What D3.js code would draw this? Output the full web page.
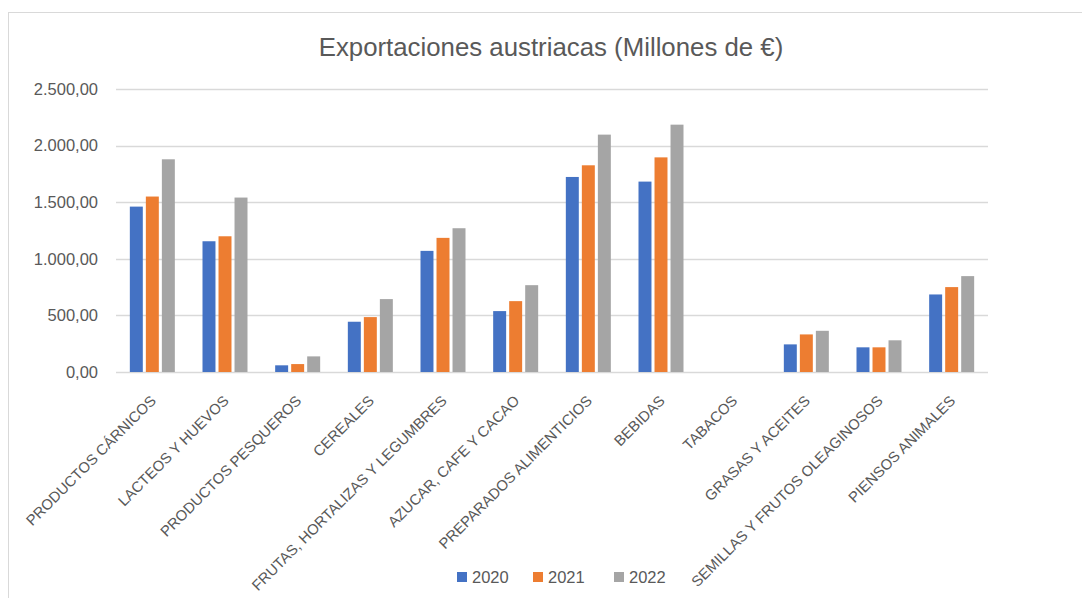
<!DOCTYPE html>
<html>
<head>
<meta charset="utf-8">
<script src="https://cdn.jsdelivr.net/npm/d3@7"></script>
<style>
  html, body { margin: 0; padding: 0; background: #fff; }
  svg { display: block; font-family: "Liberation Sans", Arial, sans-serif; }
</style>
</head>
<body>
<div id="chart"></div>
<script>
// categorías y valores (millones de €)
const categories = [
    "PRODUCTOS CÁRNICOS", "LACTEOS Y HUEVOS", "PRODUCTOS PESQUEROS", "CEREALES",
    "FRUTAS, HORTALIZAS Y LEGUMBRES", "AZUCAR, CAFE Y CACAO", "PREPARADOS ALIMENTICIOS",
    "BEBIDAS", "TABACOS", "GRASAS Y ACEITES", "SEMILLAS Y FRUTOS OLEAGINOSOS", "PIENSOS ANIMALES"
];
const years = ["2020", "2021", "2022"];
const values2020 = [1461, 1155, 59, 444, 1070, 538, 1723, 1682, 0, 244, 218, 685];
const values2021 = [1550, 1199, 70, 485, 1185, 626, 1826, 1896, 0, 332, 218, 750];
const values2022 = [1879, 1541, 138, 644, 1270, 767, 2097, 2185, 0, 364, 280, 847];
const yTicks = [0, 500, 1000, 1500, 2000, 2500];
const colors = ["#4472C4", "#ED7D31", "#A5A5A5"];

const W = 1082, H = 598;
const plot = { left: 116, right: 988, top: 89, bottom: 372 };
const textColor = "#595959";
const gridColor = "#d9d9d9";

const svg = d3.select("#chart").append("svg")
    .attr("width", W).attr("height", H);

// marco del gráfico
svg.append("rect")
    .attr("x", 8.5).attr("y", 12.5)
    .attr("width", W + 20).attr("height", H + 20)
    .attr("fill", "none")
    .attr("stroke", gridColor)
    .attr("stroke-width", 1);

// título
svg.append("text")
    .attr("x", 551).attr("y", 56)
    .attr("text-anchor", "middle")
    .style("font-size", "25.8px")
    .style("fill", textColor)
    .text("Exportaciones austriacas (Millones de €)");

const x0 = d3.scaleBand().domain(categories).range([plot.left, plot.right]).paddingInner(0).paddingOuter(0);
const x1 = d3.scaleBand().domain(years).range([0, 45]).paddingInner(0.19);
const y = d3.scaleLinear().domain([0, 2500]).range([plot.bottom, plot.top]);

const numFmt = d3.formatLocale({ decimal: ",", thousands: ".", grouping: [3], currency: ["", "€"] }).format(",.2f");

// líneas de cuadrícula
svg.append("g")
    .selectAll("line")
    .data(yTicks)
    .join("line")
    .attr("x1", plot.left).attr("x2", plot.right)
    .attr("y1", d => Math.round(y(d)) + 0.5)
    .attr("y2", d => Math.round(y(d)) + 0.5)
    .attr("stroke", gridColor)
    .attr("stroke-width", 1.5);

// eje Y
const yAxis = svg.append("g")
    .attr("transform", `translate(${plot.left - 18},0)`)
    .call(d3.axisLeft(y).tickValues(yTicks).tickSize(0).tickPadding(0).tickFormat(numFmt));
yAxis.select(".domain").remove();
yAxis.selectAll("text")
    .style("font-size", "16.5px")
    .style("font-family", "\"Liberation Sans\", Arial, sans-serif")
    .style("fill", textColor);

// barras
const series = [values2020, values2021, values2022];
const groupOffset = (x0.bandwidth() - 45) / 2;
series.forEach((vals, si) => {
    svg.append("g")
        .selectAll("rect")
        .data(categories.map((c, i) => ({ cat: c, v: vals[i] })))
        .join("rect")
        .attr("x", d => x0(d.cat) + groupOffset + x1(years[si]))
        .attr("y", d => y(d.v))
        .attr("width", x1.bandwidth())
        .attr("height", d => y(0) - y(d.v))
        .attr("fill", colors[si]);
});

// eje X
const xAxis = svg.append("g")
    .attr("transform", `translate(0,${plot.bottom})`)
    .call(d3.axisBottom(x0).tickSize(0).tickPadding(0));
xAxis.select(".domain").remove();
xAxis.selectAll("text")
    .attr("text-anchor", "end")
    .attr("transform", "translate(1,26) rotate(-45)")
    .attr("dy", "0.35em")
    .attr("y", 0)
    .style("font-size", "14.8px")
    .style("font-family", "\"Liberation Sans\", Arial, sans-serif")
    .style("fill", textColor);

// leyenda
const legendX = [457, 533, 614];
const legend = svg.append("g");
years.forEach((yr, i) => {
    legend.append("rect")
        .attr("x", legendX[i]).attr("y", 572)
        .attr("width", 10).attr("height", 10)
        .attr("fill", colors[i]);
    legend.append("text")
        .attr("x", legendX[i] + 15).attr("y", 583)
        .style("font-size", "16.5px")
        .style("fill", textColor)
        .text(yr);
});
</script>
</body>
</html>
